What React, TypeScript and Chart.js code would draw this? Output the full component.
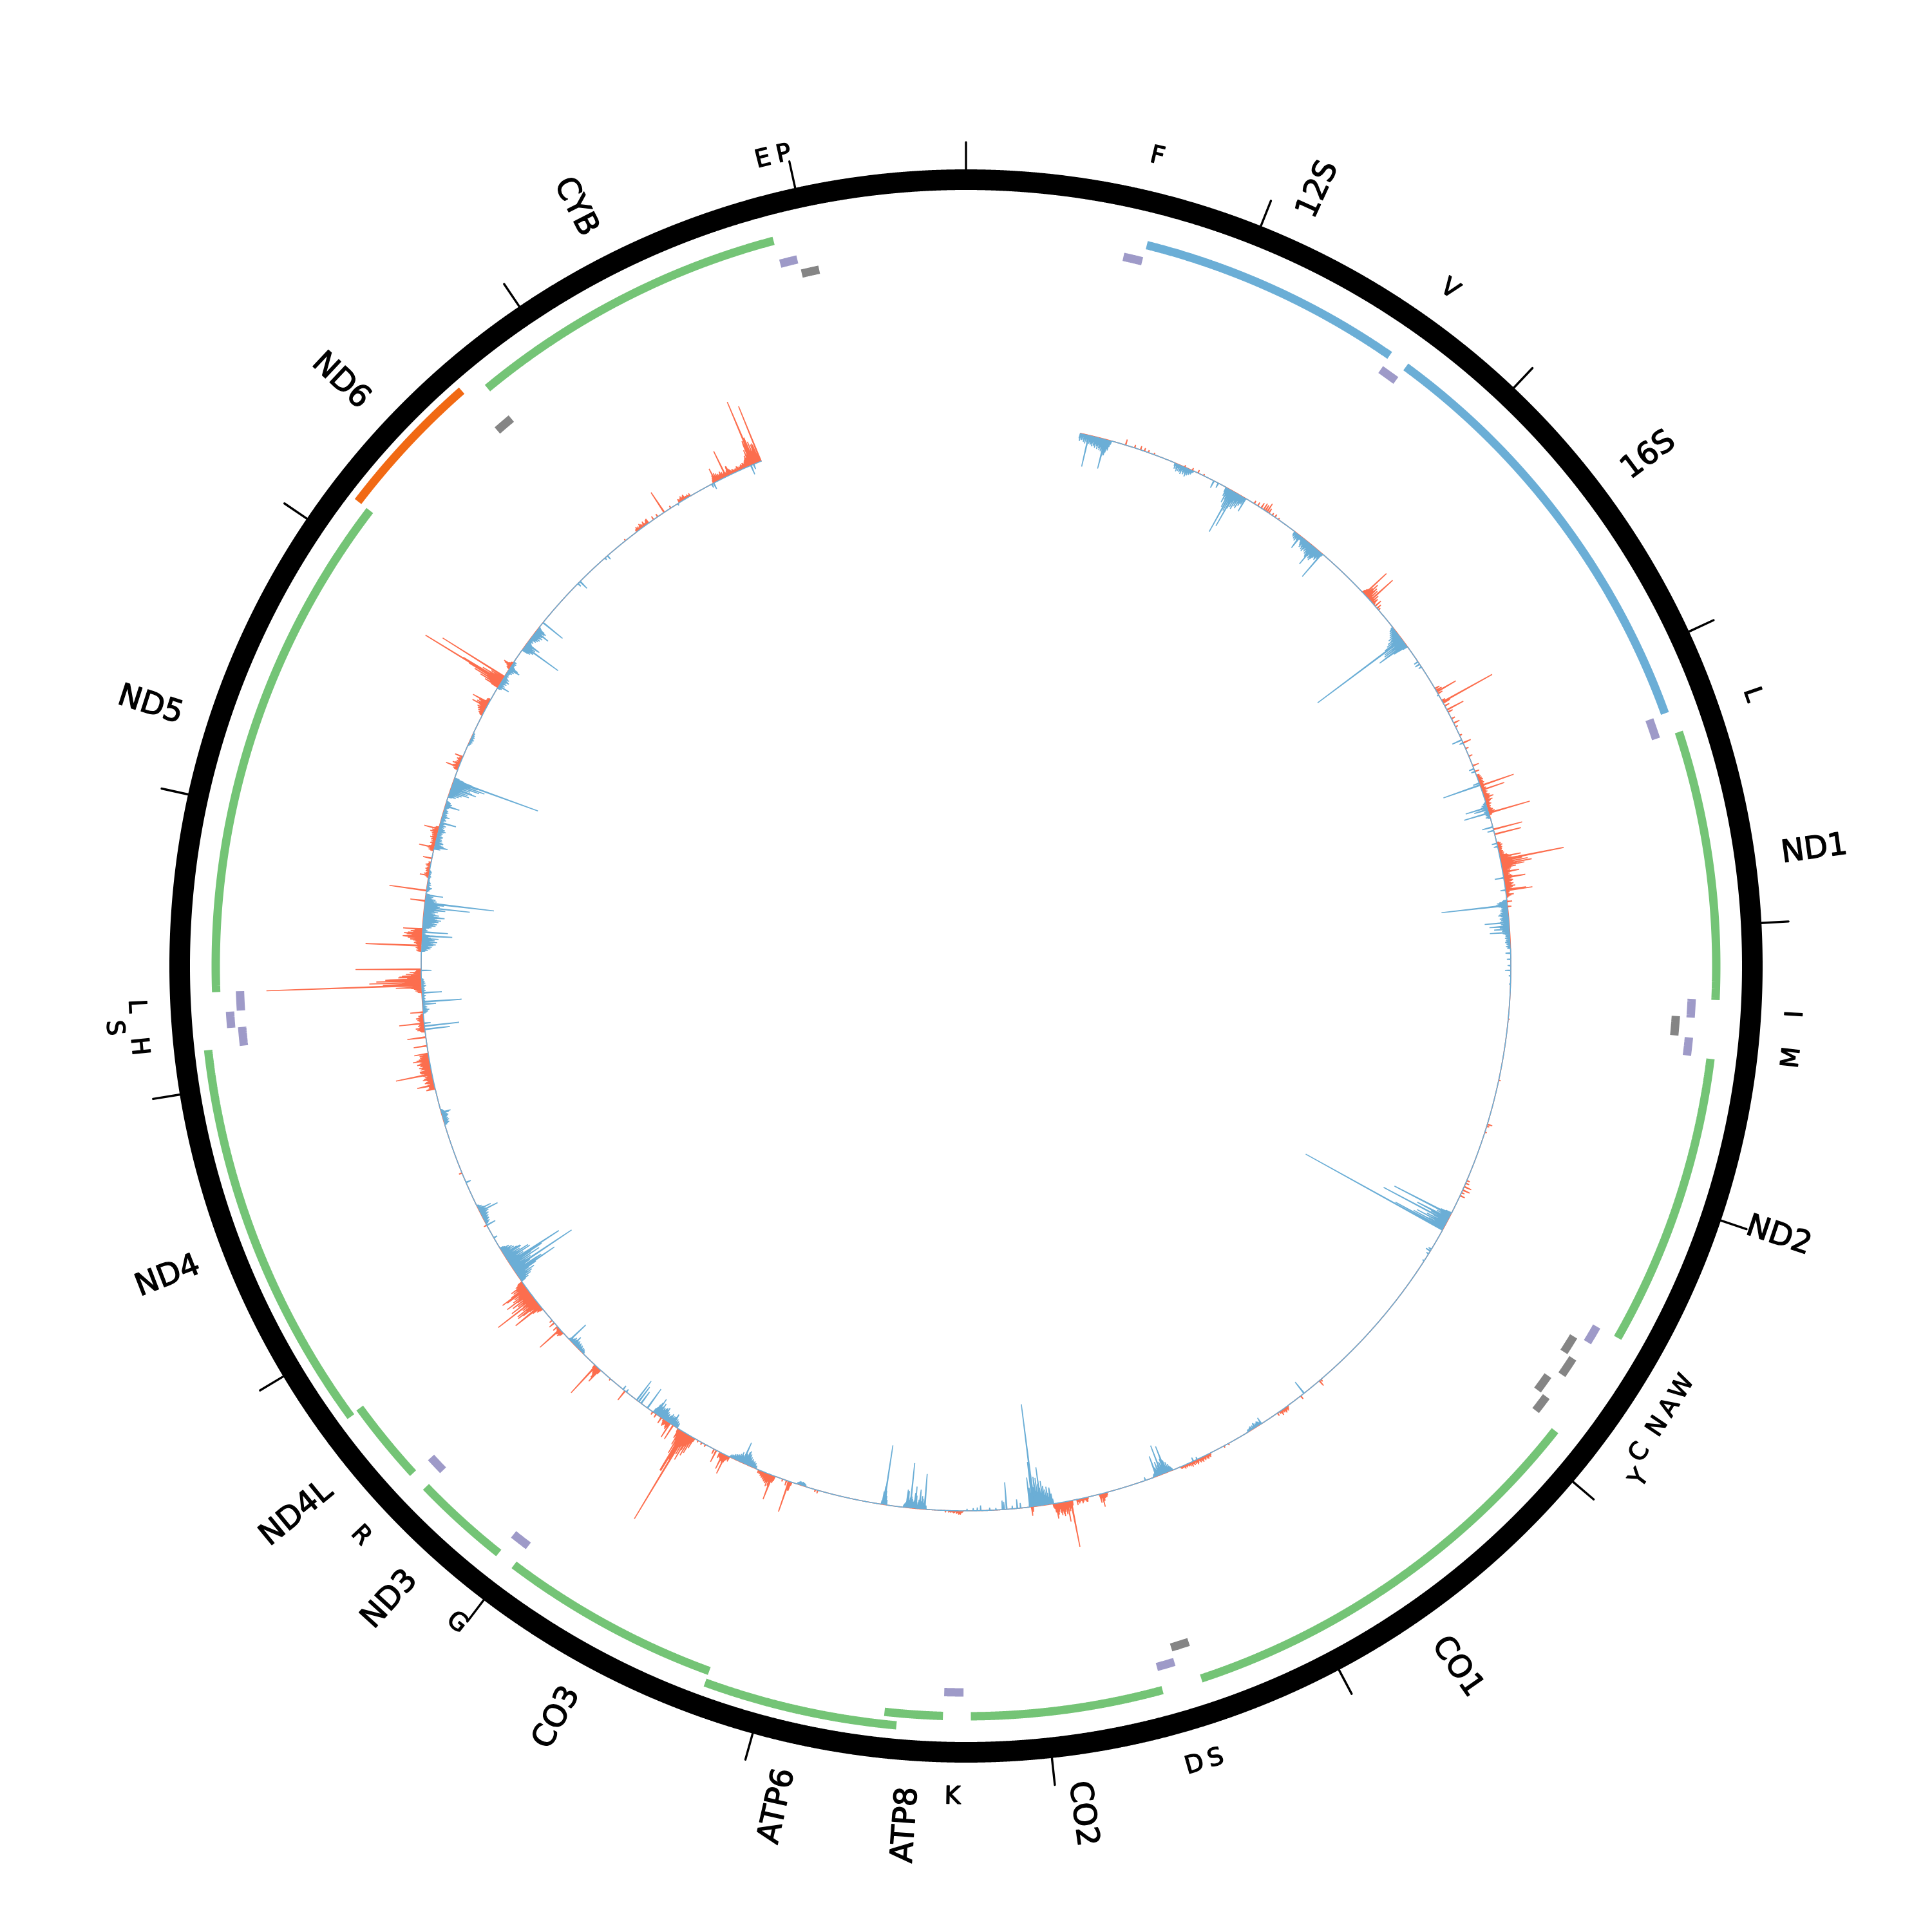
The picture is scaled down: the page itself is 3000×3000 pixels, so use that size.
import React, { useEffect, useRef } from "react";
import { Chart, registerables } from "chart.js";

Chart.register(...registerables);

const GENOME = 16569;
const BIN = 2;
const BASE = 846;

// features of the mitochondrial genome (bp)
const featureNames = ["F","12S","V","16S","L","ND1","I","","M","ND2","W","A","N","C","Y","CO1","S","D","CO2","K","ATP8","ATP6","CO3","G","ND3","R","ND4L","ND4","H","S","L","ND5","ND6","","CYB","E","P"];
const featureStarts = [577,648,1602,1671,3230,3307,4263,4329,4402,4470,5512,5587,5657,5761,5826,5904,7446,7518,7586,8295,8366,8527,9207,9991,10059,10405,10470,10760,12138,12207,12266,12337,14149,14674,14747,15888,15956];
const featureEnds = [647,1601,1670,3229,3304,4262,4331,4400,4469,5511,5579,5655,5729,5826,5891,7445,7514,7585,8269,8364,8572,9207,9990,10058,10404,10469,10766,12137,12206,12265,12336,14148,14673,14742,15887,15953,16023];
const featureTracks = ["trna","rrna","trna","rrna","trna","cds","trna","rev1","trna","cds","trna","rev1","rev2","rev1","rev2","cds","rev1","trna","cds","trna","cds","cds2","cds","trna","cds","trna","cds","cds2","trna","trna2","trna","cds","rev3","rev1","cds","trna","rev1"];
const trackNames = ["rrna","cds","cds2","rev3","trna","trna2","rev1","rev2"];
const trackRadii = [1154,1165,1184,1188,1128,1145,1105,1122];
const trackColors = ["#6baed6","#74c476","#74c476","#f16913","#9e9ac8","#9e9ac8","#858585","#858585"];
const ticks = [0,1000,2000,3000,4000,5000,6000,7000,8000,9000,10000,11000,12000,13000,14000,15000,16000];

// coverage: isolated spikes [bp, height]
const blueSpikes = [
[600,50],[683,47],[690,25],[1247,12],[1270,8],[1347,73],[1362,60],[1423,23],[1745,23],[1827,35],[1878,47],
[2449,164],[2476,50],[2485,16],[2580,7],[2595,8],[2610,5],[2770,3],[3015,16],[3030,6],[3166,8],[3180,6],[3240,10],[3250,60],
[3364,35],[3375,22],[3392,40],[3463,17],[3480,10],[3545,8],[3560,6],[3714,14],[3775,8],[3848,103],[3933,38],[3950,31],[3965,24],[3980,31],
[4080,8],[4110,6],[4140,5],[4165,9],[4190,3],[4230,2],[5395,98],[5415,55],[5429,112],[5468,85],[5477,243],[5585,5],[5594,8],[5610,4],[5650,3],
[6521,22],[6775,11],[6790,7],[6810,8],[6830,6],[7130,4],[7150,6],[7295,44],[7316,48],[7342,33],[7400,5],
[7870,26],[7902,20],[7921,60],[7942,46],[7954,160],[7960,70],[7974,46],[8020,8],[8036,14],[8060,5],[8088,42],[8100,12],[8109,14],[8140,3],[8170,4],[8215,8],[8230,5],[8250,4],[8280,3],
[8486,55],[8510,30],[8533,34],[8556,70],[8575,28],[8685,93],[9400,34],[9933,36],[9997,37],[9970,22],[9985,28],[9787,19],[10060,5],[10080,7],[10404,15],[10433,34],
[10848,72],[10857,49],[10873,109],[10903,59],[10908,92],[10927,42],[10954,29],[11050,6],[11120,15],[11195,31],[11206,21],[11350,8],
[11711,15],[12120,39],[12137,54],[12150,10],[12242,21],[12255,61],[12298,31],[12406,16],[12574,47],[12593,40],[12666,33],[12703,33],[12712,71],[12735,108],[12772,27],
[13011,21],[13030,12],[13060,10],[13131,25],[13214,23],[13288,31],[13305,41],[13344,139],[13853,18],[13950,18],[14080,64],[14098,24],[14170,24],[14226,39],[14495,15],[14480,6],[14677,7],[14660,4],[15100,3],[15300,10],[15290,6],[15500,15],[15515,8],[15560,30]
];
const redSpikes = [
[785,9],[830,5],[860,6],[880,5],[900,4],[930,3],[1090,3],[1130,4],[1160,5],[1190,3],[1470,5],[1490,6],[1510,9],[1525,11],[1535,10],[1545,15],[1555,8],[1575,4],[1590,5],[1610,3],
[2150,5],[2163,47],[2175,25],[2185,20],[2195,18],[2205,47],[2215,14],[2225,10],[2240,12],[2255,8],[2265,4],[2735,8],[2745,10],[2752,34],[2762,8],[2800,6],[2808,88],[2815,12],[2830,8],[2853,29],[2865,8],[2900,6],[2925,10],[2945,4],
[2990,4],[3030,13],[3060,5],[3100,6],[3150,10],[3180,7],[3200,5],[3255,55],[3277,37],[3315,15],[3393,66],[3475,46],[3498,42],[3613,33],[3627,100],[3687,26],[3714,34],[3730,10],[3772,32],[3776,42],[3797,12],[3830,8],[3855,6],
[4400,2],[4700,3],[4920,8],[4930,4],[4960,3],[5210,5],[5225,6],[5243,12],[5261,12],[5275,5],[5290,8],[6425,10],[6415,4],[6540,6],[6625,5],[6640,5],[6660,8],[6680,5],[6960,3],[6985,3],
[7600,7],[7615,12],[7621,21],[7630,14],[7695,7],[7745,9],[7775,73],[7792,32],[7815,12],[7847,24],[7967,14],[7960,8],[8312,6],[8330,4],[8360,3],[8385,3],[9013,5],[9025,4],[9159,50],[9150,14],[9170,8],[9190,4],[9245,40],
[9470,8],[9490,32],[9505,26],[9520,10],[9540,20],[9552,8],[9600,4],[9620,4],[9640,3],[9711,155],[9725,70],[9782,25],[9800,25],[9830,8],[9850,10],[9880,6],[9900,5],[10068,18],[10160,3],[10254,57],[10231,25],[10503,42],[10485,8],[10520,9],[10545,10],[10560,5],
[10650,49],[10668,39],[10693,72],[10761,46],[11120,5],[11400,5],[11828,14],[11848,27],[11903,57],[11920,18],[11970,26],[12003,22],[12040,21],[12082,29],[12150,39],[12205,20],
[12325,40],[12335,241],[12348,81],[12362,56],[12377,34],[12412,102],[12526,87],[12570,30],[12606,30],[12745,23],[12795,58],[12869,14],[12952,14],[13007,24],[13099,23],[13412,21],[13467,13],[13735,25],[13757,28],[13877,138],[13905,113],[13970,14],
[14790,3],[14860,4],[14890,6],[14930,8],[14960,6],[14985,5],[15023,37],[15060,4],[15110,6],[15140,8],[15170,5],[15312,23],[15369,44],[15386,15],[15507,40],[15515,105],[15543,31],[15553,92]
];

// coverage: dense stretches [first bp, heights per 4 bp]
const blueBands = [
[556,[8,12,6,10,9,5,12,8,14,7,11,9,6,13,10,14,12,16,9,15,13,17,11,14,18,12,16,19,14,20,17,22,15,18,24,20,14,16,10,6]],
[1040,[5,9,4,8,12,6,10,5,11,8,13,6,9,12,7,10,14,8,11,6,9,5,7,4,3]],
[1315,[8,14,10,24,12,18,30,14,26,16,34,20,14,28,16,24,12,26,14,20,10,22,12,16,10,12,6]],
[1710,[6,8,5,10,7,12,6,9,12,8,6,5,7,10,12,15,9,13,16,12,18,14,10,16,12,18,15,20,22,16,18,14,20,17,22,18,15,12,14,16,10,12,8,5]],
[2375,[4,6,8,5,10,7,12,9,14,10,18,12,16,22,14,26,18,32,20,28,16,36,22,38,18,30,14,24,12,8]],
[3340,[3,5,4,8,6,10,7,5,9,6,4,7,3,5,4,6,3,5,7,4]],
[3825,[6,8,12,16,14,18,20,14,10,8,10,9,12,10,8,12,10,14,16,12,9,11,14,10,12,9,14,11,8,13,10,12,9,15,11,8,10,12,7,9,11,8,6,7,7,5,8,6,4,7,5,8,4,6,5,3,7,4,5]],
[5385,[10,18,12,28,16,22,14,38,20,30,18,44,24,16,34,22,50,18,28,54,20,40,16,12]],
[6780,[4,6,5,7,5,6,4,7,5,4,6,3,5,4,5,3,4,3]],
[7260,[4,6,8,12,8,16,10,20,12,18,24,14,20,12,26,16,12,22,10,14,8,12,6,5,3]],
[7860,[8,16,10,22,12,18,28,14,24,16,30,18,38,20,28,16,34,22,44,24,36,18,30,52,20,40,22,30,14,6]],
[8480,[6,8,12,10,16,20,12,8,18,14,10,6,20,16,24,12,10,14,18,22,16,12,26,14,10,8,6,4]],
[8672,[8,14,22,30,28,20,6]],
[9075,[3,4,5,5,6,5,5,6,5,4,3]],
[9330,[5,4,8,6,10,8,10,12,9,14,12,18,16,22,20,14,16,12,14,10,12,16,10,12,9,10,8,9,6,8,5,6,4,5,3]],
[9760,[8,6,10,8,12,9,12,10,14,11,13,10,15,12,10,8,12,10,14,12,20,16,18,16,14,16,12,22,16,14,28,20,16,10,8]],
[10340,[3,4,6,5,7,4,6,8,5,7,9,6,8,10,7,9,12,8,6,10,7,5,6,4,3]],
[10803,[8,14,10,20,12,24,16,30,14,22,36,18,26,16,40,20,30,18,44,24,34,16,52,22,38,18,30,46,20,28,16,34,22,40,18,26,14,30,18,24,12,20,14,18,10,14,8,6]],
[11130,[4,6,8,5,7,9,6,8,10,7,9,12,8,10,14,9,7,11,8,6,9,5,7,4,3]],
[11650,[4,6,8,5,7,9,6,8,5,7,9,10,8,6,12,8,5,4,3]],
[12200,[4,6,8,5,10,6,4,7,5,3,4,6,3,5,8,4,3,5,4,3,4,6,3,4,5,3,4,6,3,5,4,3,5,7,4,3,6,4,5,3,4,3]],
[12500,[6,10,8,14,12,16,10,18,22,14,18,24,12,20,16,26,14,10,8,12,6,4,5,6,4,8,6,5,10,14,12,20,16,22,18,14,24,20,28,22,18,26,20,16,24,14,18,12,22,16,20,26,18,28,22,24,20,30,26,22,14,18,12,16,10,8,12,6,4,6]],
[12790,[3,5,4,6,8,5,3,4,6,3,5,4,3,2,3,2,3,2,4,3,2,3,2,4,3,2]],
[13000,[10,8,12,9,14,10,7,12,8,6,10,7,9,5,8,6,4,7,5,8,6,9,12,8,10,7,5,8,6,10,5,7,4,6,3,5,8,6,4,7,12,8,5,7,4,6,8,5,7,4,3,5,7,4,6,8,10,6,7,5]],
[13260,[6,12,8,16,10,20,12,24,14,28,16,22,34,18,30,20,44,24,52,28,40,20,30,16,8]],
[13530,[2,3,4,3,5,3,4,6,4,3,5,3,4,3,2,3]],
[13840,[5,7,4,8,6,9,5,7,10,6,8,12,9,6,10,7,5,4,6,3,5,4,6,8,5,10,8,12,10,14,8,6,4,5,4,6,3,5]],
[14060,[10,14,12,18,16,20,14,18,12,16,10,8,6,5,8,6,4,10,8,12,10,14,9,12,16,10,14,8,12,10,14,16,12,6,3]]
];
const redBands = [
[2150,[5,8,10,14,12,16,10,14,9,12,8,10,6,8,5,6,4,5,6,4,3]],
[3205,[4,6,5,7,6,8,5,7,6,8,5,6,7,8,6,5,8,6,7,5,6,8,5,6,7,10,8,6,5,8,6,12,9,7,5,6,8,5,4,6,4,5,6,8,6,10,8,6,5,4]],
[3540,[4,6,5,8,6,5,7,5,6,4,5,7,6,8,5,7,12,14,8,18,12,28,16,34,18,42,20,48,24,36,16,22,12,14,8,12,10,14,9,11,8,12,14,10,8,12,9,14,12,8,10,14,12,10,16,12,8,10,6,8,5,6,4,5,6,8,5,3]],
[6620,[3,5,7,4,6,8,4,6,3,5,7,3,4]],
[7060,[3,6,4,5,7,6,3,5,7,4,5,8,6,4,7,5,3,6,8,4,6,3,7,5,4,8,3,6,4,5,3,4,5,3,6,3,4,3,4,3]],
[7596,[5,6,7,8,7,8,9,7,6,5]],
[7690,[3,5,7,5,3,4,6,8,4,3,5,7,4]],
[7768,[8,10,14,12,16,10,18,14,20,12,16,22,18,14,20,16,10,14,18,12,10,14,8,6]],
[8300,[2,3,4,3,5,6,4,3,4,2,3,4,2,3,2,3,2,3]],
[9145,[6,14,12,10,8]],
[9230,[8,12,10,16,14,18,12,20,14,16,12,14,10,12,8,10,6,8,5,6,4,5]],
[9475,[5,7,9,12,10,14,12,8,6,9,7,5]],
[9660,[6,18,10,28,14,34,18,26,44,20,36,24,58,30,48,70,34,24,40,18,26,12,16,6]],
[9800,[6,8,12,10,7,5,8,10,6,4]],
[10225,[8,12,15,18,14,12,10,8,12,6]],
[10480,[6,8,10,7,9,6,8,5,4]],
[10632,[6,10,8,16,10,24,12,18,30,14,22,38,16,26,18,34,22,16,42,20,28,18,36,16,24,44,20,30,18,26,16,38,20,28,14,22,16,24,12,14,10,8]],
[11830,[12,10,8,9,12,8,6,10,14,12,8,10,16,14,10,12,8,14,10,12,16,18,14,12,10,16,14,18,12,16,14,20,16,12,14,18,20,16,12,14,10,14,8,6]],
[12110,[6,8,12,10,14,8,6,10,8,6,5,7,6,8,10,7,12,8,6,8,5,4]],
[12300,[6,8,10,8,12,16,20,14,38,24,60,30,44,26,70,30,48,22,36,18,30,16,24,12,18,10,8]],
[12500,[6,8,5,7,9,6,8,10,7,9,12,8,10,14,18,12,22,26,20,16,24,28,22,14,18,12,8,6]],
[12860,[3,5,6,4,8,5,3,6,5,4,7,5,3,6,4,8,5,3,4]],
[12990,[5,8,6,10,7,9,6,4,5,8,6,4,7,5,8,6,10,7,5,8,6,9,7,12,8,10,6,9,7,5]],
[13400,[6,8,5,7,10,8,6,12,8,5,7,4,6,8,5,3]],
[13690,[5,6,8,6,10,8,12,10,14,10,12,16,14,18,12,16,10,8,6,5,6,4]],
[13845,[12,24,16,34,20,46,24,58,30,70,22,36,16,22,8]],
[13950,[4,6,5,8,12,8,6,4,3]],
[14860,[3,5,7,4,6,3,5,8,4,6,3,5,8,4,3,5,7,4]],
[15110,[3,5,4,6,8,5,6,4,5,3,4,3,5,3,2,3]],
[15300,[5,8,12,6,10,14,9,12,8,10,7,9,12,8,10,6,8,5,7,6,9,12,14,10,8,6,5,7,6,4,5,6,4,8,7,5]],
[15440,[4,6,5,7,8,6,9,8,7,10,12,14,18,14,26,18,34,20,38,24,44,22,36,20,30,18,26,14,8]]
];

const binLabels = Array.from({ length: Math.ceil(GENOME / BIN) }, (_, i) => String(i * BIN));
const toBin = (bp: number) => Math.floor(bp / BIN);

function coverage(spikes: number[][], bands: any[], sign: number) {
  const out: (number | null)[] = binLabels.map((_, i) => {
    const bp = i * BIN;
    return bp >= 555 && bp <= 15557 ? BASE : null;
  });
  const put = (bp: number, h: number) => {
    const i = toBin(bp);
    if (out[i] === null) return;
    if (Math.abs((out[i] as number) - BASE) < h) out[i] = BASE + sign * h;
  };
  for (const [bp, h] of spikes) put(bp, h);
  for (const [start, hs] of bands) {
    hs.forEach((h: number, j: number) => put(start + j * 4, h));
  }
  return out;
}

function track(name: string, r: number) {
  const out: (number | null)[] = binLabels.map(() => null);
  featureTracks.forEach((t, k) => {
    if (t !== name) return;
    for (let i = toBin(featureStarts[k]); i <= toBin(featureEnds[k]); i++) out[i] = r;
  });
  return out;
}

const decorPlugin = {
  id: "decor",
  afterDatasetsDraw(chart: any) {
    const { ctx } = chart;
    const scale = chart.scales.r;
    ctx.save();
    ctx.strokeStyle = "#000";
    ctx.lineWidth = 3.4;
    ctx.lineCap = "round";
    for (const t of ticks) {
      const i = toBin(t);
      const a = scale.getPointPositionForValue(i, 1236);
      const b = scale.getPointPositionForValue(i, 1279);
      ctx.beginPath();
      ctx.moveTo(a.x, a.y);
      ctx.lineTo(b.x, b.y);
      ctx.stroke();
    }
    ctx.fillStyle = "#000";
    ctx.lineWidth = 1.4;
    ctx.lineJoin = "round";
    ctx.textBaseline = "middle";
    featureNames.forEach((name, k) => {
      if (!name) return;
      const mid = (featureStarts[k] + featureEnds[k]) / 2;
      const theta = (mid / GENOME) * 360;
      const isGene = name.length > 1;
      let rot: number;
      let r: number;
      if (isGene) {
        rot = theta < 180 ? theta - 90 : theta - 270;
        r = 1278;
        ctx.textAlign = theta < 180 ? "left" : "right";
      } else {
        rot = theta < 90 || theta > 270 ? theta : theta - 180;
        r = name === "S" && theta > 250 ? 1327 : name === "Y" ? 1315 : 1291;
        ctx.textAlign = "center";
      }
      const p = scale.getPointPositionForValue(toBin(mid), r);
      ctx.save();
      ctx.translate(p.x, p.y);
      ctx.rotate((rot * Math.PI) / 180);
      ctx.font = `${isGene ? 48 : 38}px "DejaVu Sans"`;
      ctx.fillText(name, 0, 0);
      ctx.strokeText(name, 0, 0);
      ctx.restore();
    });
    ctx.restore();
  },
};

export default function App() {
  const ref = useRef<HTMLCanvasElement>(null);
  useEffect(() => {
    const line = { pointRadius: 0, pointHitRadius: 0, tension: 0, spanGaps: false, fill: false };
    const chart = new Chart(ref.current as HTMLCanvasElement, {
      type: "radar",
      data: {
        labels: binLabels,
        datasets: [
          { ...line, data: coverage(blueSpikes, blueBands, -1), borderColor: "#6baed6", backgroundColor: "#6baed6", borderWidth: 1.6, borderJoinStyle: "bevel", fill: { value: BASE } },
          { ...line, data: coverage(redSpikes, redBands, 1), borderColor: "#fc6e4e", backgroundColor: "#fc6e4e", borderWidth: 1.6, borderJoinStyle: "bevel", fill: { value: BASE } },
          ...trackNames.map((n, i) => ({ ...line, data: track(n, trackRadii[i]), borderColor: trackColors[i], borderWidth: 13, borderCapStyle: "butt", borderJoinStyle: "bevel" })),
          { ...line, data: binLabels.map(() => 1221), borderColor: "#000", borderWidth: 32 },
        ],
      } as any,
      options: {
        responsive: false,
        maintainAspectRatio: false,
        animation: false,
        events: [],
        layout: { padding: 0 },
        plugins: { legend: { display: false }, tooltip: { enabled: false } },
        scales: {
          r: {
            min: 0,
            max: 1500,
            ticks: { display: false },
            grid: { display: false },
            angleLines: { display: false },
            pointLabels: { display: false },
          },
        },
      } as any,
      plugins: [decorPlugin],
    });
    return () => chart.destroy();
  }, []);
  return (
    <div style={{ position: "absolute", left: 0, top: 0, width: 3000, height: 3000, background: "#fff" }}>
      <canvas ref={ref} width={3000} height={3000} style={{ display: "block" }} />
    </div>
  );
}
